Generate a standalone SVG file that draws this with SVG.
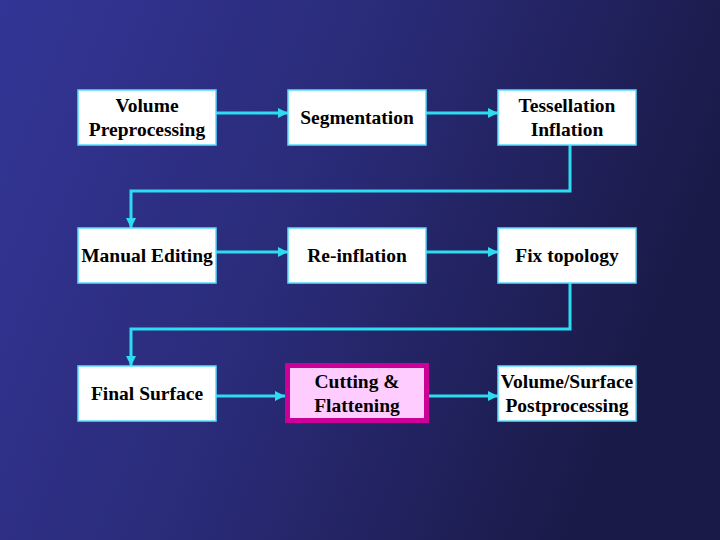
<svg xmlns="http://www.w3.org/2000/svg" width="720" height="540" viewBox="0 0 720 540">
<defs>
<linearGradient id="bg" x1="0" y1="0" x2="1" y2="0.3">
<stop offset="0" stop-color="#333596"/>
<stop offset="0.5" stop-color="#2a2b78"/>
<stop offset="1" stop-color="#1a1a48"/>
</linearGradient>
<marker id="ah" viewBox="0 0 10 10" refX="10" refY="5" markerWidth="3.5" markerHeight="3.5" orient="auto" markerUnits="strokeWidth">
<path d="M0,0 L10,5 L0,10 z" fill="#2edcf2"/>
</marker>
<style>
.box{fill:#ffffff;stroke:#55ddff;stroke-width:1.5}
.t{font-family:"Liberation Serif","Times New Roman",serif;font-weight:bold;font-size:19.5px;fill:#000;text-anchor:middle}
.c{fill:none;stroke:#2edcf2;stroke-width:3;marker-end:url(#ah)}
</style>
</defs>
<rect width="720" height="540" fill="url(#bg)"/>
<g id="connectors">
<line class="c" x1="216" y1="113" x2="288" y2="113"/>
<line class="c" x1="426" y1="113" x2="498" y2="113"/>
<polyline class="c" points="570,145 570,191 131,191 131,228"/>
<line class="c" x1="216" y1="252" x2="288" y2="252"/>
<line class="c" x1="426" y1="252" x2="498" y2="252"/>
<polyline class="c" points="570,283 570,329 131,329 131,366"/>
<line class="c" x1="216" y1="396" x2="285" y2="396"/>
<line class="c" x1="429" y1="396" x2="498" y2="396"/>
</g>
<g id="n1"><rect class="box" x="78" y="90" width="138" height="55"/><text class="t" x="147" y="112">Volume</text><text class="t" x="147" y="136">Preprocessing</text></g>
<g id="n2"><rect class="box" x="288" y="90" width="138" height="55"/><text class="t" x="357" y="124">Segmentation</text></g>
<g id="n3"><rect class="box" x="498" y="90" width="138" height="55"/><text class="t" x="567" y="112">Tessellation</text><text class="t" x="567" y="136">Inflation</text></g>
<g id="n4"><rect class="box" x="78" y="228" width="138" height="55"/><text class="t" x="147" y="262">Manual Editing</text></g>
<g id="n5"><rect class="box" x="288" y="228" width="138" height="55"/><text class="t" x="357" y="262">Re-inflation</text></g>
<g id="n6"><rect class="box" x="498" y="228" width="138" height="55"/><text class="t" x="567" y="262">Fix topology</text></g>
<g id="n7"><rect class="box" x="78" y="366" width="138" height="55"/><text class="t" x="147" y="400">Final Surface</text></g>
<g id="n8"><rect x="287.5" y="365.5" width="139" height="55" fill="#ffccff" stroke="#cc0099" stroke-width="5"/><text class="t" x="357" y="388">Cutting &amp;</text><text class="t" x="357" y="412">Flattening</text></g>
<g id="n9"><rect class="box" x="498" y="366" width="138" height="55"/><text class="t" x="567" y="388">Volume/Surface</text><text class="t" x="567" y="412">Postprocessing</text></g>
</svg>
